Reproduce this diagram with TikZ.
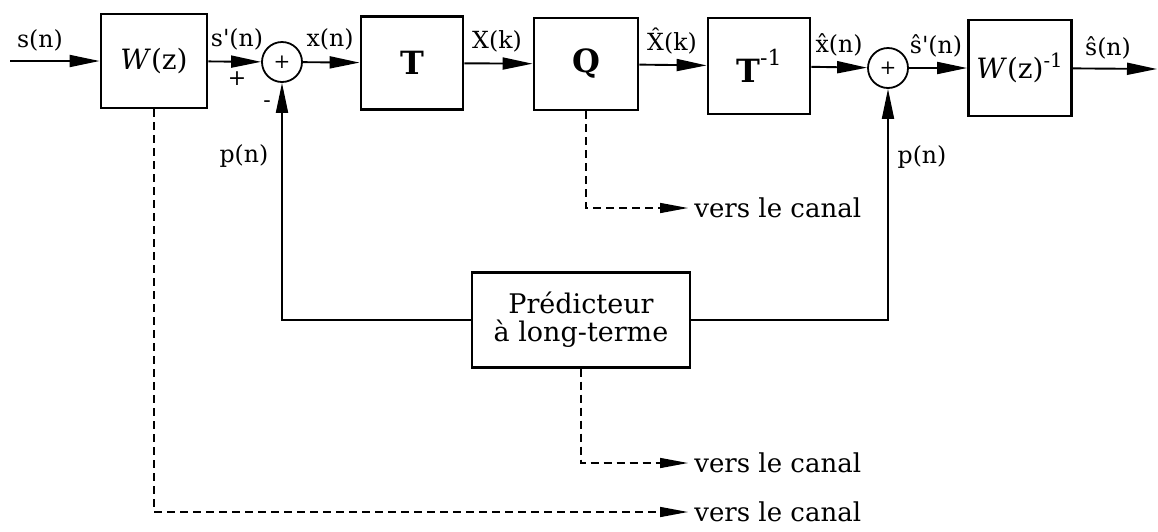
\documentclass[tikz,border=0pt]{standalone}
\usepackage{fontspec}
\setmainfont{DejaVu Serif}
\usetikzlibrary{arrows.meta}
\begin{document}
\begin{tikzpicture}[x=0.5pt,y=-0.5pt,
  blk/.style={draw,line width=1.4pt,inner sep=0pt,font=\fontsize{13}{15}\selectfont},
  sumnode/.style={draw,circle,line width=0.9pt,minimum size=20pt,inner sep=0pt,font=\fontsize{10}{11}\selectfont},
  lbl/.style={font=\fontsize{11.8}{13}\selectfont,anchor=base,inner sep=0pt},
  sig/.style={line width=0.95pt,-{Triangle[length=15pt,width=6pt]}},
  canal/.style={line width=0.75pt,dash pattern=on 4pt off 2.5pt,-{Triangle[length=14pt,width=5pt]}},
  canaltext/.style={font=\fontsize{13}{15}\selectfont,anchor=west,inner sep=3pt},
]
\useasboundingbox (0,0) rectangle (1158,531);

% blocks
\node[blk,minimum width=53pt,minimum height=47pt,font=\fontsize{14}{16}\selectfont] (W) at (154,61) {\textit{W}(z)};
\node[sumnode] (s1) at (282,62) {+};
\node[blk,minimum width=51pt,minimum height=46.5pt,font=\fontsize{16}{18}\selectfont] (T) at (412,63) {\textbf{T}};
\node[blk,minimum width=52pt,minimum height=46pt,font=\fontsize{16}{18}\selectfont] (Q) at (586,64) {\textbf{Q}};
\node[blk,minimum width=51pt,minimum height=48pt,font=\fontsize{16}{18}\selectfont] (Ti) at (759,66) {\textbf{T}\raisebox{0.55em}{\fontsize{11}{12}\selectfont -1}};
\node[sumnode] (s2) at (888,68) {+};
\node[blk,minimum width=51.5pt,minimum height=48pt,font=\fontsize{14}{16}\selectfont] (Wi) at (1020,68) {\textit{W}(z)\textsuperscript{-1}};
\node[draw,line width=1.1pt,minimum width=109pt,minimum height=47.5pt,align=center,
      font=\fontsize{13.5}{14}\selectfont] (P) at (581,320) {Prédicteur\\à long-terme};

\coordinate (in) at (10,61);
\coordinate (out) at (1157,69);

% main path
\draw[sig] (in) -- (W);
\draw[sig] (W) -- (s1);
\draw[sig] (s1) -- (T);
\draw[sig] (T) -- (Q);
\draw[sig] (Q) -- (Ti);
\draw[sig] (Ti) -- (s2);
\draw[sig] (s2) -- (Wi);
\draw[sig] (Wi) -- (out);

% feedback
\draw[sig] (P.west) -| (s1.south);
\draw[sig] (P.east) -| (s2.south);

% labels
\node[lbl] (l1) at (40,47) {s(n)};
\node[lbl] (l2) at (237,46) {s\textquotesingle(n)};
\node[lbl,font=\fontsize{11}{12}\selectfont] (l3) at (237,85) {+};
\node[lbl,font=\fontsize{11}{12}\selectfont] (l4) at (267,107) {-};
\node[lbl] (l5) at (330,46) {x(n)};
\node[lbl] (l6) at (497,48) {X(k)};
\node[lbl] (l7) at (672,50) {\^{X}(k)};
\node[lbl] (l8) at (839,52) {\^{x}(n)};
\node[lbl] (l9) at (936,53) {ŝ\textquotesingle(n)};
\node[lbl] (l10) at (1108,55) {ŝ(n)};
\node[lbl] (l11) at (244,162) {p(n)};
\node[lbl] (l12) at (922,163) {p(n)};

% to channel
\node[canaltext] (v1) at (688,208) {vers le canal};
\node[canaltext] (v2) at (688,463) {vers le canal};
\node[canaltext] (v3) at (688,512) {vers le canal};
\draw[canal] (Q.south) |- (v1.west);
\draw[canal] (P.south) |- (v2.west);
\draw[canal] (W.south) |- (v3.west);
\end{tikzpicture}
\end{document}
